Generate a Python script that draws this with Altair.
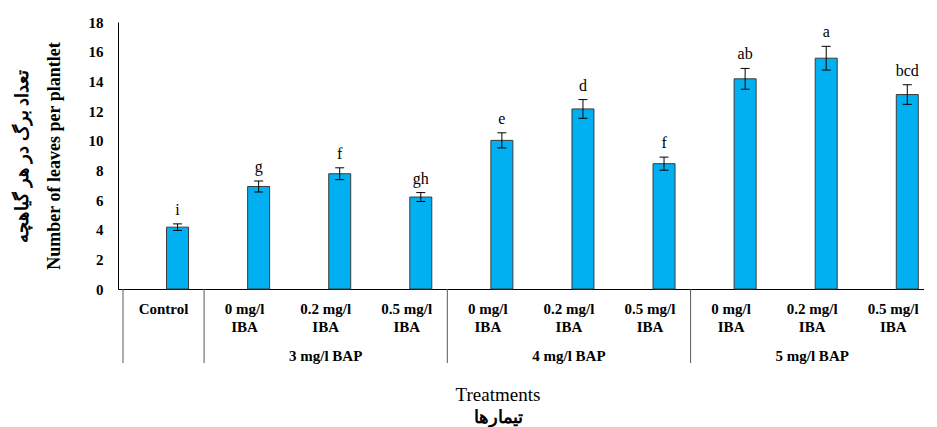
import altair as alt
import pandas as pd

# ---- data ----
labels = ["Control", "0 mg/l\nIBA", "0.2 mg/l\nIBA", "0.5 mg/l\nIBA",
          "0 mg/l\nIBA", "0.2 mg/l\nIBA", "0.5 mg/l\nIBA",
          "0  mg/l\nIBA", "0.2 mg/l\nIBA", "0.5 mg/l\nIBA"]
groups = ["", "3 mg/l  BAP", "3 mg/l  BAP", "3 mg/l  BAP",
          "4 mg/l  BAP", "4 mg/l  BAP", "4 mg/l  BAP",
          "5 mg/l  BAP", "5 mg/l  BAP", "5 mg/l  BAP"]
means = [4.17, 6.91, 7.77, 6.20, 10.02, 12.14, 8.45, 14.17, 15.56, 13.11]
errors = [0.22, 0.37, 0.40, 0.30, 0.51, 0.63, 0.44, 0.70, 0.80, 0.66]
letters = ["i", "g", "f", "gh", "e", "d", "f", "ab", "a", "bcd"]
y_ticks = [0, 2, 4, 6, 8, 10, 12, 14, 16, 18]

y_title = ["تعداد برگ در هر گیاهچه", "Number of leaves per plantlet"]
x_title_en = "Treatments"
x_title_fa = "تیمارها"

pos = list(range(len(labels)))
df = pd.DataFrame({
    "pos": pos, "label": labels, "group": groups, "mean": means,
    "err": errors, "letter": letters,
})
df["lo"] = df["mean"] - df["err"]
df["hi"] = df["mean"] + df["err"]

# group spans
gnames = []
for g in groups:
    if g and g not in gnames:
        gnames.append(g)
gdf = pd.DataFrame({
    "group": gnames,
    "center": [sum(p for p, gg in zip(pos, groups) if gg == g) /
               sum(1 for gg in groups if gg == g) for g in gnames],
})
bounds = [-0.5] + [min(p for p, gg in zip(pos, groups) if gg == g) - 0.5 for g in gnames]
sdf = pd.DataFrame({"b": bounds})

W, H = 806, 267
xscale = alt.Scale(domain=[-0.5, 9.317], nice=False, zero=False)
yscale = alt.Scale(domain=[0, 18], nice=False)
SERIF = "Times New Roman, Liberation Serif, serif"
OFF = 14

xaxis = alt.Axis(labels=False, ticks=False, title=None, grid=False,
                 domainColor="#000000", domainWidth=1)
yaxis = alt.Axis(values=y_ticks, ticks=False, grid=False,
                 domainColor="#000000", domainWidth=1,
                 labelFont=SERIF, labelFontSize=15,
                 labelFontWeight="bold", labelColor="#000000",
                 labelPadding=15,
                 title=y_title, titleFont=SERIF, titleFontSize=18,
                 titleFontWeight="bold", titleColor="#000000",
                 titleLineHeight=32, titlePadding=25)


def X(field):
    return alt.X(field, scale=xscale, axis=xaxis)


def Y(field):
    return alt.Y(field, scale=yscale, axis=yaxis)


base = alt.Chart(df)

bars = base.mark_bar(size=22, xOffset=OFF, color="#00B0F0",
                     stroke="#3c3c3c", strokeWidth=1).encode(
    x=X("pos:Q"), y=Y("mean:Q"))

err_v = base.mark_rule(color="#000000", strokeWidth=1, xOffset=OFF).encode(
    x=X("pos:Q"), y=Y("lo:Q"), y2="hi:Q")
cap_hi = base.mark_rule(color="#000000", strokeWidth=1,
                        xOffset=OFF - 4.5, x2Offset=OFF + 4.5).encode(
    x=X("pos:Q"), x2="pos:Q", y=Y("hi:Q"))
cap_lo = base.mark_rule(color="#000000", strokeWidth=1,
                        xOffset=OFF - 4.5, x2Offset=OFF + 4.5).encode(
    x=X("pos:Q"), x2="pos:Q", y=Y("lo:Q"))
letter_txt = base.mark_text(font=SERIF, fontSize=16, color="#000000",
                            dx=OFF, dy=-9, baseline="alphabetic").encode(
    x=X("pos:Q"), y=Y("hi:Q"), text="letter:N")

cat_txt = base.mark_text(font=SERIF, fontSize=15, fontWeight="bold",
                         color="#000000", baseline="top", align="center",
                         lineBreak="\n", lineHeight=18).encode(
    x=X("pos:Q"), y=alt.value(280), text="label:N")

grp_txt = alt.Chart(gdf).mark_text(font=SERIF, fontSize=15, fontWeight="bold",
                                   color="#000000", baseline="middle").encode(
    x=X("center:Q"), y=alt.value(334), text="group:N")

seps = alt.Chart(sdf).mark_rule(color="#595959", strokeWidth=1).encode(
    x=X("b:Q"), y=alt.value(H), y2=alt.value(341))

title_en = alt.Chart(pd.DataFrame({"t": [x_title_en]})).mark_text(
    font=SERIF, fontSize=19, color="#000000", baseline="middle").encode(
    x=alt.value(380), y=alt.value(373), text="t:N")
title_fa = alt.Chart(pd.DataFrame({"t": [x_title_fa]})).mark_text(
    font=SERIF, fontSize=18, fontWeight="bold", color="#000000",
    baseline="middle").encode(
    x=alt.value(380), y=alt.value(396), text="t:N")

chart = alt.layer(bars, err_v, cap_hi, cap_lo, letter_txt, seps, cat_txt,
                  grp_txt, title_en, title_fa).properties(
    width=W, height=H,
    padding={"left": 5, "top": 7, "right": 0, "bottom": 0},
    background="white",
).configure_view(stroke=None)

chart.save("out.html", embed_options={"renderer": "svg", "actions": False})
